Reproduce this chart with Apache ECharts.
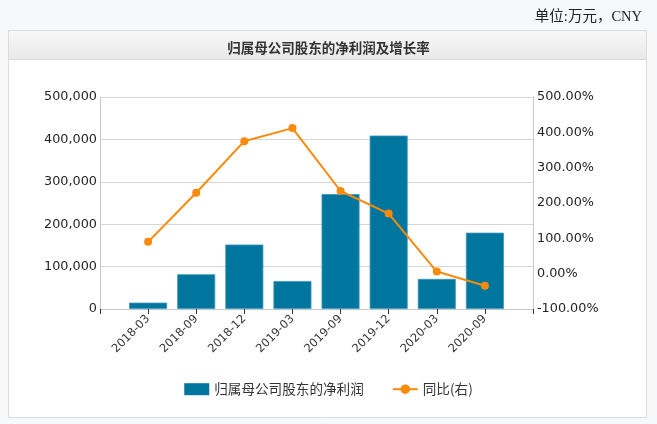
<!DOCTYPE html>
<html>
<head>
<meta charset="utf-8">
<script src="https://cdn.jsdelivr.net/npm/echarts@6/dist/echarts.min.js"></script>
<style>
html,body{margin:0;padding:0;background:#f7f8fa;}
#c{width:657px;height:424px;}
</style>
</head>
<body>
<div id="c"></div>
<script>
var categories = ['2018-03','2018-09','2018-12','2019-03','2019-09','2019-12','2020-03','2020-09'];
var profitValues = [15000, 82000, 152000, 66000, 271000, 409000, 71000, 180000];
var growthValues = [90, 229, 375, 412, 234, 170, 6, -34];
var leftTicks = {min: 0, max: 500000, interval: 100000};
var rightTicks = {min: -100, max: 500, interval: 100};

var axisCats = [''].concat(categories).concat(['']);
var barData = [null].concat(profitValues).concat([null]);
var lineData = [null].concat(growthValues).concat([null]);

var chart = echarts.init(document.getElementById('c'), null, {renderer:'canvas'});
var font = 'DejaVu Sans, Verdana, sans-serif';
chart.setOption({
  backgroundColor: '#f7f8fa',
  animation: false,
  graphic: [
    {type:'rect', shape:{x:8.5,y:30.5,width:638,height:387}, style:{fill:'#ffffff', stroke:'#dcdcdc', lineWidth:1}, z:-10},
    {type:'rect', shape:{x:9,y:31,width:637,height:28},
      style:{fill:new echarts.graphic.LinearGradient(0,0,0,1,[{offset:0,color:'#f7f7f7'},{offset:1,color:'#e9e9e9'}])}, z:-9},
    {type:'line', shape:{x1:9,y1:59.5,x2:646,y2:59.5}, style:{stroke:'#d9d9d9', lineWidth:1}, z:-8}
  ],
  title: [
    {text:'单位:万元，CNY', right: 10, top: 5,
      textStyle:{fontFamily:'Liberation Serif, Noto Sans CJK SC, serif', fontSize:14.5, fontWeight:'normal', color:'#222'}},
    {text:'归属母公司股东的净利润及增长率', left:'center', top: 36,
      textStyle:{fontFamily:'Noto Sans CJK SC, serif', fontSize:13.5, fontWeight:'bold', color:'#333'}}
  ],
  legend: {
    bottom: 23, left: 'center', itemGap: 28, itemWidth: 25, itemHeight: 12,
    textStyle:{fontFamily:'Noto Sans CJK SC, sans-serif', fontSize:13.6, color:'#333'},
    data: [{name:'归属母公司股东的净利润', icon:'rect', itemStyle:{borderWidth:0}}, {name:'同比(右)'}]
  },
  grid: {left: 100, right: 124, top: 97, bottom: 115},
  xAxis: {
    type: 'category', data: axisCats, boundaryGap: false,
    axisLine: {lineStyle:{color:'#c8c8c8'}},
    axisTick: {show:true, length:5, lineStyle:{color:'#333'}},
    axisLabel: {rotate:45, fontSize:11.5, color:'#333', fontFamily:font, interval:0, margin:8}
  },
  yAxis: [
    {type:'value', min:leftTicks.min, max:leftTicks.max, interval:leftTicks.interval,
      axisLine:{show:true, lineStyle:{color:'#c8c8c8'}}, axisTick:{show:false},
      splitLine:{lineStyle:{color:'#d6d6d6'}},
      axisLabel:{fontSize:12.8, color:'#222', fontFamily:font, margin:3,
        formatter:function(v){return v.toLocaleString('en-US');}}},
    {type:'value', min:rightTicks.min, max:rightTicks.max, interval:rightTicks.interval, position:'right',
      axisLine:{show:true, lineStyle:{color:'#c8c8c8'}}, axisTick:{show:false},
      splitLine:{show:false},
      axisLabel:{fontSize:12.8, color:'#222', fontFamily:font, margin:4,
        formatter:function(v){return v.toFixed(2)+'%';}}}
  ],
  series: [
    {name:'归属母公司股东的净利润', type:'bar', data:barData, barWidth:38, yAxisIndex:0,
      itemStyle:{color:'#00769f', borderColor:'#3f97bd', borderWidth:0.8}},
    {name:'同比(右)', type:'line', data:lineData, yAxisIndex:1, connectNulls:false,
      symbol:'circle', symbolSize:8, showAllSymbol:true,
      lineStyle:{color:'#fa8a0c', width:2}, itemStyle:{color:'#fa8a0c'}}
  ]
});
</script>
</body>
</html>
